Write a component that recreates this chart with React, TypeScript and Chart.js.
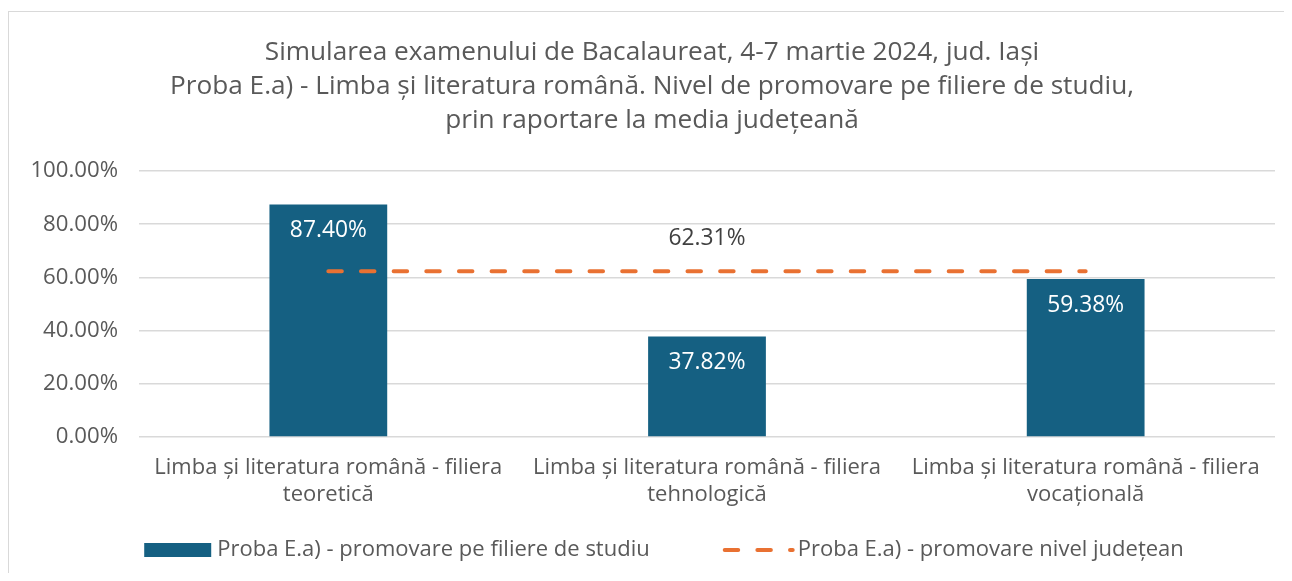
import React, { useEffect, useRef } from "react";
import { Chart, registerables } from "chart.js";

Chart.register(...registerables);

const FONT = "'Open Sans', 'Noto Sans', sans-serif";
const TEXT = "#595959";

const titleLines = [
  "Simularea examenului de Bacalaureat, 4-7 martie 2024, jud. Iași",
  "Proba E.a) - Limba și literatura română. Nivel de promovare pe filiere de studiu,",
  "prin raportare la media județeană",
];
const categories = [
  ["Limba și literatura română - filiera", "teoretică"],
  ["Limba și literatura română - filiera", "tehnologică"],
  ["Limba și literatura română - filiera", "vocațională"],
];
const barSeriesName = "Proba E.a) - promovare pe filiere de studiu";
const lineSeriesName = "Proba E.a) - promovare nivel județean";
const barValues = [87.4, 37.82, 59.38];
const lineValues = [62.31, 62.31, 62.31];
const lineLabelIndex = 1;
const yMin = 0;
const yMax = 100;
const yStep = 20;

const BAR_COLOR = "#156082";
const LINE_COLOR = "#E97132";

const TITLE_SIZE = 26.2;
const TICK_SIZE = 22.2;
const VALUE_SIZE = 22.8;
const XLABEL_SIZE = 22;
const LEGEND_SIZE = 22;
const DASH = [13.5, 19.15];

const fmt = (v: number) => `${v.toFixed(2)}%`;

const valueLabelPlugin = {
  id: "valueLabels",
  afterDatasetsDraw(chart: any) {
    const ctx = chart.ctx;
    ctx.save();
    ctx.font = `${VALUE_SIZE}px ${FONT}`;
    ctx.textAlign = "center";
    ctx.textBaseline = "middle";
    const barMeta = chart.getDatasetMeta(0);
    barMeta.data.forEach((el: any, i: number) => {
      ctx.fillStyle = "#ffffff";
      ctx.fillText(fmt(barValues[i]), el.x, el.y + 26);
    });
    const lineMeta = chart.getDatasetMeta(1);
    const p = lineMeta.data[lineLabelIndex];
    if (p) {
      ctx.fillStyle = "#404040";
      ctx.fillText(fmt(lineValues[lineLabelIndex]), p.x, p.y - 33);
    }
    ctx.restore();
  },
};

const legendPlugin = {
  id: "customLegend",
  afterDraw(chart: any) {
    const ctx = chart.ctx;
    ctx.save();
    ctx.font = `${LEGEND_SIZE}px ${FONT}`;
    ctx.textBaseline = "middle";
    ctx.textAlign = "left";
    const y = chart.height - 32;
    const swatchW = 67;
    const swatchH = 14;
    const lineW = 72;
    const gapItems = 73;
    const w1 = ctx.measureText(barSeriesName).width;
    const w2 = ctx.measureText(lineSeriesName).width;
    const total = swatchW + 6 + w1 + gapItems + lineW + 3 + w2;
    let x = chart.width / 2 + 10 - total / 2;
    ctx.fillStyle = BAR_COLOR;
    ctx.fillRect(x, y - swatchH / 2, swatchW, swatchH);
    x += swatchW + 6;
    ctx.fillStyle = TEXT;
    ctx.fillText(barSeriesName, x, y);
    x += w1 + gapItems;
    ctx.strokeStyle = LINE_COLOR;
    ctx.lineWidth = 4;
    ctx.lineCap = "round";
    ctx.setLineDash(DASH);
    ctx.beginPath();
    ctx.moveTo(x + 2, y);
    ctx.lineTo(x + lineW - 2, y);
    ctx.stroke();
    ctx.setLineDash([]);
    x += lineW + 3;
    ctx.fillStyle = TEXT;
    ctx.fillText(lineSeriesName, x, y);
    ctx.restore();
  },
};

export default function App() {
  const ref = useRef<HTMLCanvasElement>(null);

  useEffect(() => {
    if (!ref.current) return;
    const chart = new Chart(ref.current, {
      type: "bar",
      data: {
        labels: categories,
        datasets: [
          {
            type: "bar",
            label: barSeriesName,
            data: barValues,
            backgroundColor: BAR_COLOR,
            borderWidth: 0,
            categoryPercentage: 1,
            barPercentage: 0.311,
            order: 1,
          },
          {
            type: "line",
            label: lineSeriesName,
            data: lineValues,
            borderColor: LINE_COLOR,
            borderWidth: 4,
            borderDash: DASH,
            borderCapStyle: "round",
            pointRadius: 0,
            fill: false,
            order: 0,
          },
        ] as any,
      },
      options: {
        animation: false,
        responsive: true,
        maintainAspectRatio: false,
        layout: { padding: { top: 0, left: 20, right: 24, bottom: 57 } },
        plugins: {
          legend: { display: false },
          tooltip: { enabled: false },
          title: {
            display: true,
            text: titleLines,
            color: TEXT,
            font: { family: FONT, size: TITLE_SIZE, weight: "normal", lineHeight: 34 / TITLE_SIZE },
            padding: { top: 24, bottom: 33 },
          },
        },
        scales: {
          x: {
            grid: { display: false, drawTicks: false },
            border: { display: false },
            ticks: {
              color: TEXT,
              font: { family: FONT, size: XLABEL_SIZE, lineHeight: 27 / XLABEL_SIZE },
              padding: 17,
              maxRotation: 0,
              autoSkip: false,
            },
          },
          y: {
            min: yMin,
            max: yMax,
            grid: { color: "#d9d9d9", lineWidth: 1.5, drawTicks: false },
            border: { display: false },
            afterFit: (scale: any) => {
              scale.width = 110;
            },
            ticks: {
              stepSize: yStep,
              color: TEXT,
              font: { family: FONT, size: TICK_SIZE },
              padding: 21,
              callback: (v: any) => fmt(Number(v)),
            },
          },
        },
      },
      plugins: [valueLabelPlugin, legendPlugin],
    });
    return () => chart.destroy();
  }, []);

  return (
    <div style={{ width: 1284, height: 565, overflow: "hidden", paddingTop: 3, boxSizing: "border-box" }}>
      <div style={{ border: "1px solid #d9d9d9", width: 1300, height: 600, position: "relative" }}>
        <div style={{ width: 1290, height: 570, position: "relative" }}>
          <canvas ref={ref} />
        </div>
      </div>
    </div>
  );
}
